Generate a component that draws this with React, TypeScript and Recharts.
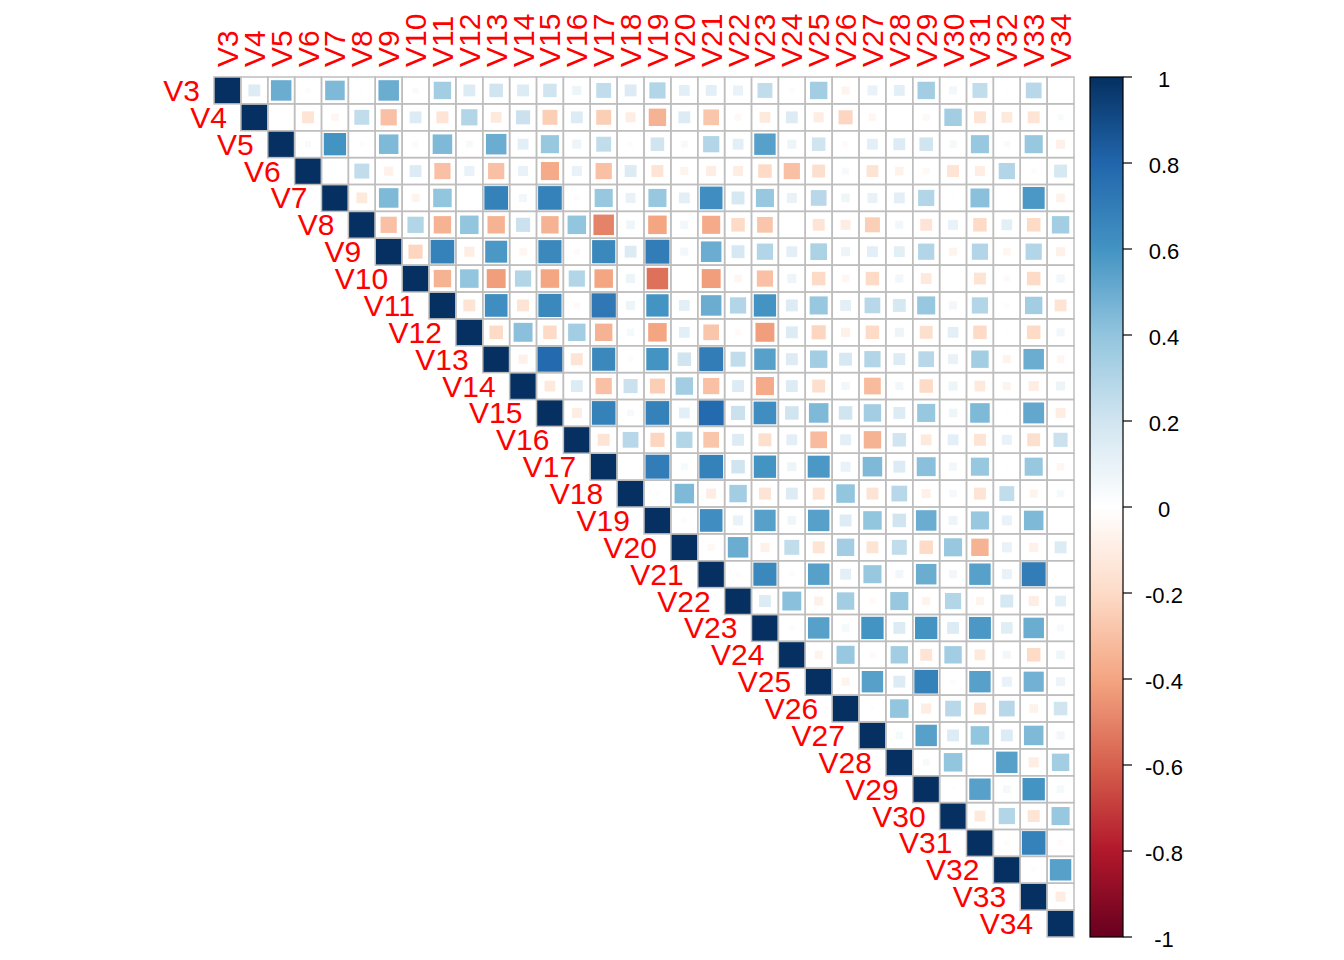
import React from 'react';
import { ScatterChart, Scatter, XAxis, YAxis, Customized } from 'recharts';

// variable names, V3 .. V34
const labels = Array.from({ length: 32 }, (_, k) => `V${k + 3}`);

// upper triangle rows, each starting at the diagonal
const V3 = [1, 0.15, 0.5, 0.02, 0.45, 0.01, 0.5, 0.03, 0.35, 0.15, 0.2, 0.15, 0.2, 0.08, 0.25, 0.15, 0.3, 0.12, 0.12, 0.1, 0.25, -0.02, 0.35, -0.06, 0.1, 0.12, 0.35, 0.06, 0.25, 0.01, 0.28, 0.0];
const V4 = [1, 0, -0.15, -0.05, 0.25, -0.3, 0.15, -0.15, 0.3, -0.12, 0.22, -0.25, 0.15, -0.25, -0.1, -0.35, 0.15, -0.28, -0.04, -0.12, 0.15, -0.1, -0.22, -0.05, 0.0, -0.04, 0.35, -0.15, -0.12, -0.15, 0.03];
const V5 = [1, 0.03, 0.6, -0.02, 0.45, -0.03, 0.45, 0.04, 0.5, 0.12, 0.38, 0.08, 0.25, 0.02, 0.2, 0.04, 0.3, 0.12, 0.55, 0.08, 0.2, -0.03, 0.12, 0.15, 0.2, 0.05, 0.38, 0.03, 0.38, -0.08];
const V6 = [1, 0.01, 0.25, -0.08, 0.15, -0.3, 0.1, -0.3, 0.1, -0.38, 0.1, -0.3, 0.15, -0.15, -0.06, -0.1, -0.1, -0.2, -0.3, -0.18, 0.04, -0.15, -0.07, -0.04, -0.15, -0.1, 0.3, 0.02, 0.18];
const V7 = [1, -0.12, 0.45, -0.06, 0.4, 0.01, 0.68, 0.06, 0.68, -0.02, 0.38, 0.1, 0.38, 0.12, 0.62, 0.18, 0.38, 0.1, 0.28, 0.07, 0.1, 0.12, 0.3, 0.01, 0.42, 0.0, 0.58, -0.07];
const V8 = [1, -0.3, 0.3, -0.35, 0.4, -0.35, 0.22, -0.35, 0.4, -0.5, 0.07, -0.4, 0.06, -0.38, -0.2, -0.28, 0.0, -0.15, -0.1, -0.25, 0.06, -0.15, 0.1, -0.2, 0.12, -0.2, 0.35];
const V9 = [1, -0.22, 0.68, -0.1, 0.58, -0.05, 0.65, -0.03, 0.65, 0.15, 0.7, 0.06, 0.5, 0.18, 0.3, 0.12, 0.32, 0.08, 0.12, 0.12, 0.3, -0.06, 0.3, -0.05, 0.3, -0.08];
const V10 = [1, -0.35, 0.4, -0.42, 0.3, -0.4, 0.3, -0.4, 0.08, -0.55, 0.0, -0.42, -0.05, -0.3, 0.08, -0.2, -0.05, -0.2, 0.06, -0.12, 0.0, -0.15, -0.03, -0.2, 0.06];
const V11 = [1, -0.15, 0.62, -0.15, 0.65, -0.03, 0.72, 0.08, 0.6, 0.12, 0.5, 0.3, 0.6, 0.15, 0.38, 0.12, 0.28, 0.18, 0.38, 0.06, 0.3, 0.02, 0.35, -0.15];
const V12 = [1, -0.2, 0.42, -0.2, 0.35, -0.35, 0.05, -0.4, 0.12, -0.28, -0.03, -0.42, 0.15, -0.22, -0.08, -0.2, 0.08, -0.18, 0.12, -0.2, 0.01, -0.2, 0.06];
const V13 = [1, -0.08, 0.78, -0.15, 0.65, -0.02, 0.6, 0.2, 0.7, 0.25, 0.55, 0.15, 0.35, 0.18, 0.3, 0.15, 0.28, 0.1, 0.35, -0.06, 0.5, -0.05];
const V14 = [1, -0.12, 0.15, -0.3, 0.22, -0.25, 0.35, -0.3, 0.15, -0.38, 0.15, -0.18, 0.06, -0.32, 0.06, -0.2, 0.08, -0.12, -0.06, -0.1, 0.08];
const V15 = [1, -0.1, 0.68, 0.04, 0.68, 0.12, 0.78, 0.22, 0.62, 0.2, 0.45, 0.2, 0.35, 0.15, 0.38, 0.07, 0.45, 0.01, 0.52, -0.1];
const V16 = [1, -0.15, 0.28, -0.22, 0.3, -0.28, 0.15, -0.18, 0.12, -0.32, 0.12, -0.35, 0.2, -0.12, 0.12, -0.15, 0.1, -0.18, 0.22];
const V17 = [1, 0.0, 0.7, 0.04, 0.68, 0.2, 0.6, 0.08, 0.58, 0.1, 0.45, 0.15, 0.42, 0.06, 0.38, 0.01, 0.38, -0.05];
const V18 = [1, 0.02, 0.45, -0.1, 0.35, -0.15, 0.15, -0.15, 0.4, -0.15, 0.28, -0.08, 0.05, -0.15, 0.25, -0.06, 0.05];
const V19 = [1, 0.02, 0.62, 0.1, 0.55, 0.07, 0.55, 0.15, 0.4, 0.2, 0.5, 0.08, 0.38, 0.1, 0.45, 0.0];
const V20 = [1, -0.04, 0.5, -0.08, 0.25, -0.15, 0.35, -0.15, 0.25, -0.2, 0.38, -0.35, 0.1, -0.08, 0.15];
const V21 = [1, -0.02, 0.65, -0.02, 0.55, 0.12, 0.38, 0.06, 0.5, 0.06, 0.55, 0.1, 0.7, 0.0];
const V22 = [1, 0.15, 0.42, -0.08, 0.35, -0.03, 0.38, -0.06, 0.3, -0.06, 0.18, -0.1, 0.12];
const V23 = [1, -0.02, 0.55, 0.05, 0.6, 0.15, 0.6, 0.15, 0.58, 0.14, 0.5, 0.04];
const V24 = [1, -0.06, 0.38, -0.03, 0.35, -0.15, 0.35, -0.12, 0.06, -0.2, 0.07];
const V25 = [1, -0.06, 0.55, 0.15, 0.68, 0.02, 0.55, 0.1, 0.48, 0.08];
const V26 = [1, -0.01, 0.4, -0.1, 0.28, -0.15, 0.28, -0.07, 0.2];
const V27 = [1, 0.05, 0.55, 0.15, 0.4, 0.15, 0.45, 0.06];
const V28 = [1, 0.04, 0.4, 0.0, 0.55, -0.1, 0.35];
const V29 = [1, -0.01, 0.55, 0.05, 0.6, 0.05];
const V30 = [1, -0.12, 0.3, -0.15, 0.38];
const V31 = [1, -0.02, 0.68, -0.03];
const V32 = [1, 0.02, 0.55];
const V33 = [1, -0.1];
const V34 = [1];

const upperRows = [V3, V4, V5, V6, V7, V8, V9, V10, V11, V12, V13, V14, V15, V16, V17, V18, V19, V20, V21, V22, V23, V24, V25, V26, V27, V28, V29, V30, V31, V32, V33, V34];

const legendTicks = [1, 0.8, 0.6, 0.4, 0.2, 0, -0.2, -0.4, -0.6, -0.8, -1];

// RdBu palette (corrplot COL2), from -1 to 1
const palette = ['#67001F', '#B2182B', '#D6604D', '#F4A582', '#FDDBC7', '#FFFFFF', '#D1E5F0', '#92C5DE', '#4393C3', '#2166AC', '#053061'];

const W = 1344;
const H = 960;
const LEFT = 214;
const TOP = 77;
const SIZE = 860;
const N = labels.length;
const CELL = SIZE / N;
const FONT = '"Liberation Sans", Arial, sans-serif';
const LABEL_SIZE = 30;

const hex = (c: string) => [1, 3, 5].map(k => parseInt(c.slice(k, k + 2), 16));

function corrColor(r: number) {
  const t = ((Math.max(-1, Math.min(1, r)) + 1) / 2) * (palette.length - 1);
  const k = Math.min(palette.length - 2, Math.floor(t));
  const f = t - k;
  const a = hex(palette[k]);
  const b = hex(palette[k + 1]);
  const m = a.map((v, q) => Math.round(v + (b[q] - v) * f));
  return `rgb(${m[0]},${m[1]},${m[2]})`;
}

const cells = upperRows.flatMap((row, i) =>
  row.map((r, k) => ({ x: i + k + 0.5, y: i + 0.5, i, j: i + k, r }))
);

// square side ~ sqrt(|r|), drawn with a border of the same colour
const CorrSquare = (props: any) => {
  const { cx, cy, payload } = props;
  if (payload.r === 0) return <g />;
  const s = Math.min(CELL, CELL * Math.sqrt(Math.abs(payload.r)) + 1.5);
  const c = corrColor(payload.r);
  return <rect x={cx - s / 2} y={cy - s / 2} width={s} height={s} fill={c} />;
};

const GridCell = (props: any) => {
  const { cx, cy, payload } = props;
  const h = CELL / 2;
  return (
    <g>
      <rect x={cx - h} y={cy - h} width={CELL} height={CELL} fill="none" stroke="#BEBEBE" strokeWidth={1.5} />
      {payload.i === payload.j && (
        <text x={cx - h - 14} y={cy} textAnchor="end" dominantBaseline="central" fontSize={LABEL_SIZE} fill="#FF0000" fontFamily={FONT}>
          {labels[payload.i]}
        </text>
      )}
      {payload.i === 0 && (
        <text
          transform={`translate(${cx},${TOP - 10}) rotate(-90)`}
          textAnchor="start"
          dominantBaseline="central"
          fontSize={LABEL_SIZE}
          fill="#FF0000"
          fontFamily={FONT}
        >
          {labels[payload.j]}
        </text>
      )}
    </g>
  );
};

const ColorBar = () => {
  const x0 = 1090;
  const bw = 33;
  const yOf = (v: number) => TOP + ((1 - v) / 2) * SIZE;
  return (
    <g>
      <defs>
        <linearGradient id="rdbu" x1="0" y1="0" x2="0" y2="1">
          {palette
            .slice()
            .reverse()
            .map((c, k) => (
              <stop key={k} offset={`${(k / (palette.length - 1)) * 100}%`} stopColor={c} />
            ))}
        </linearGradient>
      </defs>
      <rect x={x0} y={TOP} width={bw} height={SIZE} fill="url(#rdbu)" stroke="#000" strokeWidth={1.2} />
      {legendTicks.map(v => (
        <g key={v}>
          <line x1={x0 + bw} x2={x0 + bw + 9} y1={yOf(v)} y2={yOf(v)} stroke="#000" strokeWidth={1.2} />
          <text x={1164} y={yOf(v) + 2} textAnchor="middle" dominantBaseline="central" fontSize={22} fill="#000" fontFamily={FONT}>
            {String(v)}
          </text>
        </g>
      ))}
    </g>
  );
};

export default function App() {
  return (
    <div style={{ position: 'absolute', left: 0, top: 0, width: W, height: H, background: '#fff' }}>
      <ScatterChart width={W} height={H} margin={{ top: TOP, left: LEFT, right: W - LEFT - SIZE, bottom: H - TOP - SIZE }}>
        <XAxis type="number" dataKey="x" domain={[0, N]} hide />
        <YAxis type="number" dataKey="y" domain={[0, N]} reversed hide />
        <Scatter data={cells} shape={CorrSquare} isAnimationActive={false} />
        <Scatter data={cells} shape={GridCell} isAnimationActive={false} />
        <Customized component={ColorBar} />
      </ScatterChart>
    </div>
  );
}
